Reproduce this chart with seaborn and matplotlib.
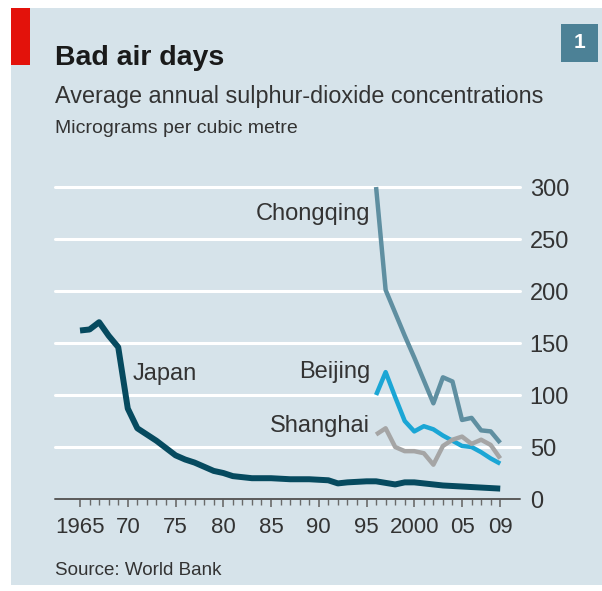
import matplotlib
matplotlib.use("Agg")
import matplotlib.pyplot as plt
from matplotlib.patches import Rectangle
import numpy as np
import pandas as pd
import seaborn as sns

# values (micrograms per cubic metre)
japan_years = list(range(1965, 2010))
japan = [162, 163, 170, 157, 146, 87, 68, 62, 56, 49,
         42, 38, 35, 31, 27, 25, 22, 21, 20, 20,
         20, 19.5, 19, 19, 19, 18.5, 18, 15, 16, 16.5,
         17, 17, 15.5, 14, 16, 16, 15, 14, 13, 12.5,
         12, 11.5, 11, 10.5, 10]

china_years = list(range(1996, 2010))
chongqing = [300, 201, 179, 157, 136, 114, 92, 117, 113, 76, 78, 66, 65, 54]
beijing = [100, 122, 98, 75, 65, 70, 67, 61, 56, 51, 50, 45, 39, 34]
shanghai = [62, 68, 50, 46, 46, 44, 33, 51, 57, 60, 53, 57, 52, 39]

y_ticks = [0, 50, 100, 150, 200, 250, 300]
x_ticks = [1965, 1970, 1975, 1980, 1985, 1990, 1995, 2000, 2005, 2009]
x_labels = ["1965", "70", "75", "80", "85", "90", "95", "2000", "05", "09"]

df_japan = pd.DataFrame({"year": japan_years, "value": japan})
df_china = pd.DataFrame({"year": china_years, "Chongqing": chongqing,
                         "Beijing": beijing, "Shanghai": shanghai})

BG = "#d6e3ea"
TXT = "#333333"
colours = {"Japan": "#064a5f", "Chongqing": "#5f8fa1",
           "Beijing": "#1ba6d5", "Shanghai": "#a5a5a5"}

sns.set_style("white")
plt.rcParams["font.family"] = ["Liberation Sans", "DejaVu Sans"]

W, H = 602, 591
fig = plt.figure(figsize=(W / 100, H / 100), dpi=100)
fig.patch.set_facecolor("white")

def fx(px):
    return px / W

def fy(py):
    return 1 - py / H

# panel background, red tag and the little number box
fig.patches.append(Rectangle((fx(11), fy(585)), fx(602 - 11), (585 - 8) / H,
                             transform=fig.transFigure, facecolor=BG,
                             edgecolor="none", zorder=-5))
fig.patches.append(Rectangle((fx(11), fy(65)), fx(19), (65 - 8) / H,
                             transform=fig.transFigure, facecolor="#e3120b",
                             edgecolor="none", zorder=1))
fig.patches.append(Rectangle((fx(561), fy(62)), fx(37), (62 - 24) / H,
                             transform=fig.transFigure, facecolor="#4c8196",
                             edgecolor="none", zorder=1))
fig.text(fx(579.5), fy(43), "1", color="white", fontsize=15, fontweight="bold",
         ha="center", va="center")

fig.text(fx(55), fy(65), "Bad air days", fontsize=20.5, fontweight="bold",
         color="#1a1a1a", va="baseline")
fig.text(fx(55), fy(103), "Average annual sulphur-dioxide concentrations",
         fontsize=16.8, color=TXT, va="baseline")
fig.text(fx(55), fy(133), "Micrograms per cubic metre", fontsize=14,
         color=TXT, va="baseline")
fig.text(fx(55), fy(575), "Source: World Bank", fontsize=13.5,
         color=TXT, va="baseline")

ax = fig.add_axes([fx(55), fy(499), fx(520 - 55), (499 - 187) / H])
ax.set_facecolor("none")
ax.set_xlim(1962.38, 2011.07)
ax.set_ylim(0, 300)

for v in y_ticks[1:]:
    ax.axhline(v, color="white", lw=2.2, zorder=1, clip_on=False)
ax.axhline(0, color="#5a5a5a", lw=1.4, zorder=2, clip_on=False)

line_kw = dict(solid_joinstyle="round", solid_capstyle="butt")
sns.lineplot(data=df_china, x="year", y="Beijing", ax=ax,
             color=colours["Beijing"], lw=3.2, zorder=3, **line_kw)
sns.lineplot(data=df_china, x="year", y="Shanghai", ax=ax,
             color=colours["Shanghai"], lw=3.2, zorder=4, **line_kw)
sns.lineplot(data=df_china, x="year", y="Chongqing", ax=ax,
             color=colours["Chongqing"], lw=3.2, zorder=5, clip_on=False,
             **line_kw)
sns.lineplot(data=df_japan, x="year", y="value", ax=ax,
             color=colours["Japan"], lw=4.3, zorder=6, **line_kw)

for s in ax.spines.values():
    s.set_visible(False)

ax.yaxis.tick_right()
ax.set_yticks(y_ticks)
ax.set_yticklabels([str(v) for v in y_ticks])
ax.tick_params(axis="y", length=0, pad=7, labelsize=17, labelcolor=TXT)
for lab in ax.get_yticklabels():
    lab.set_horizontalalignment("left")

ax.set_xticks(x_ticks)
ax.set_xticklabels(x_labels)
ax.set_xticks(japan_years, minor=True)
ax.tick_params(axis="x", which="both", bottom=True, top=False)
ax.tick_params(axis="x", which="major", direction="out", length=6, width=1.2,
               color="#6a6a6a", pad=7, labelsize=16, labelcolor=TXT)
ax.tick_params(axis="x", which="minor", direction="out", length=4, width=1.0,
               color="#6a6a6a")
ax.set_xlabel("")
ax.set_ylabel("")

lab_kw = dict(fontsize=17, color=TXT, va="baseline")
ax.text(1995.4, 268, "Chongqing", ha="right", **lab_kw)
ax.text(1995.4, 116, "Beijing", ha="right", **lab_kw)
ax.text(1995.4, 64.4, "Shanghai", ha="right", **lab_kw)
ax.text(1970.55, 114, "Japan", ha="left", **lab_kw)

fig.savefig("out.png", dpi=100, facecolor=fig.get_facecolor())
